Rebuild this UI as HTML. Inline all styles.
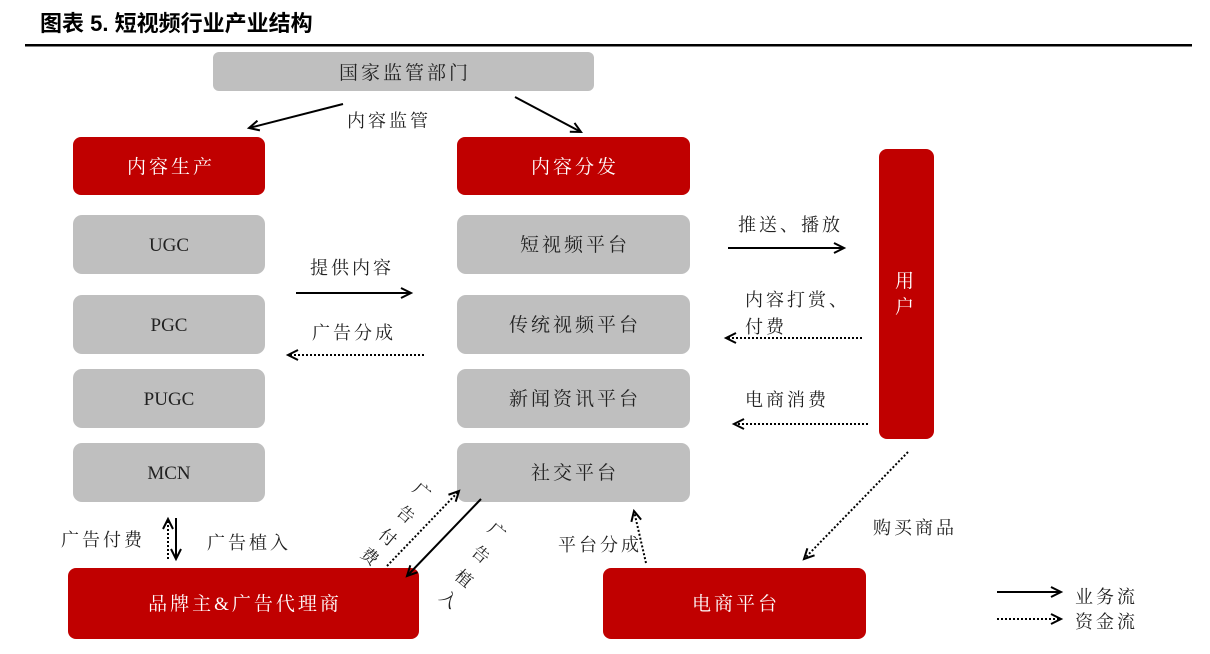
<!DOCTYPE html>
<html><head><meta charset="utf-8"><style>
html,body{margin:0;padding:0;background:#fff;}
svg{display:block}
text{font-family:"Liberation Serif","Noto Serif CJK SC",serif;}
</style></head><body>
<svg width="1210" height="654" viewBox="0 0 1210 654" xmlns="http://www.w3.org/2000/svg">
<defs>
<marker id="a" markerWidth="14" markerHeight="12" refX="11" refY="6" orient="auto" markerUnits="userSpaceOnUse"><path d="M1,1 L11,6 L1,11" fill="none" stroke="#000" stroke-width="2"/></marker>
</defs>
<text x="40" y="31" font-size="22" font-weight="bold" style="font-family:'Liberation Sans','Noto Sans CJK SC',sans-serif">图表 5. 短视频行业产业结构</text>
<rect x="25" y="44" width="1167" height="2.5" fill="#000"/>
<g fill="#bfbfbf">
<rect x="213" y="52" width="381" height="39" rx="6"/>
<rect x="73" y="215" width="192" height="59" rx="9"/>
<rect x="73" y="295" width="192" height="59" rx="9"/>
<rect x="73" y="369" width="192" height="59" rx="9"/>
<rect x="73" y="443" width="192" height="59" rx="9"/>
<rect x="457" y="215" width="233" height="59" rx="9"/>
<rect x="457" y="295" width="233" height="59" rx="9"/>
<rect x="457" y="369" width="233" height="59" rx="9"/>
<rect x="457" y="443" width="233" height="59" rx="9"/>
</g>
<g fill="#c00000">
<rect x="73" y="137" width="192" height="58" rx="8"/>
<rect x="457" y="137" width="233" height="58" rx="8"/>
<rect x="879" y="149" width="55" height="290" rx="8"/>
<rect x="68" y="568" width="351" height="71" rx="8"/>
<rect x="603" y="568" width="263" height="71" rx="8"/>
</g>
<g font-size="19" fill="#222" text-anchor="middle">
<text x="169" y="251">UGC</text>
<text x="169" y="331">PGC</text>
<text x="169" y="405">PUGC</text>
<text x="169" y="479">MCN</text>
</g>
<g font-size="19" fill="#222" text-anchor="middle" letter-spacing="3">
<text x="405" y="79">国家监管部门</text>
<text x="575" y="251">短视频平台</text>
<text x="575" y="331">传统视频平台</text>
<text x="575" y="405">新闻资讯平台</text>
<text x="575" y="479">社交平台</text>
</g>
<g font-size="19" fill="#fff" text-anchor="middle" letter-spacing="3">
<text x="171" y="173">内容生产</text>
<text x="575" y="173">内容分发</text>
<text x="906" y="287">用</text>
<text x="906" y="313">户</text>
<text x="245" y="610">品牌主&amp;广告代理商</text>
<text x="736" y="610">电商平台</text>
</g>
<g font-size="18" fill="#222" letter-spacing="3">
<text x="347" y="127">内容监管</text>
<text x="310" y="274">提供内容</text>
<text x="312" y="339">广告分成</text>
<text x="738" y="231">推送、播放</text>
<text x="745" y="306">内容打赏、</text>
<text x="745" y="333">付费</text>
<text x="745" y="406">电商消费</text>
<text x="873" y="534">购买商品</text>
<text x="61" y="546">广告付费</text>
<text x="207" y="549">广告植入</text>
<text x="558" y="551">平台分成</text>
<text x="1075" y="603">业务流</text>
<text x="1075" y="628">资金流</text>
</g>
<g font-size="17" fill="#222" text-anchor="middle">
<text transform="translate(418,496) rotate(40)">广</text>
<text transform="translate(402,519) rotate(40)">告</text>
<text transform="translate(384,542) rotate(40)">付</text>
<text transform="translate(366,561) rotate(40)">费</text>
<text transform="translate(493,536) rotate(40)">广</text>
<text transform="translate(477,559) rotate(40)">告</text>
<text transform="translate(460,583) rotate(40)">植</text>
<text transform="translate(445,604) rotate(40)">入</text>
</g>
<g stroke="#000" stroke-width="2" fill="none" marker-end="url(#a)">
<line x1="343" y1="104" x2="249" y2="128"/>
<line x1="515" y1="97" x2="581" y2="132"/>
<line x1="296" y1="293" x2="411" y2="293"/>
<line x1="728" y1="248" x2="844" y2="248"/>
<line x1="176" y1="518" x2="176" y2="559"/>
<line x1="481" y1="499" x2="407" y2="576"/>
<line x1="997" y1="592" x2="1061" y2="592"/>
</g>
<g stroke="#000" stroke-width="2" stroke-dasharray="2,2" fill="none" marker-end="url(#a)">
<line x1="424" y1="355" x2="288" y2="355"/>
<line x1="862" y1="338" x2="726" y2="338"/>
<line x1="868" y1="424" x2="734" y2="424"/>
<line x1="908" y1="452" x2="804" y2="559"/>
<line x1="168" y1="559" x2="168" y2="519"/>
<line x1="387" y1="566" x2="459" y2="491"/>
<line x1="646" y1="563" x2="634" y2="511"/>
<line x1="997" y1="619" x2="1061" y2="619"/>
</g>
</svg>
</body></html>
